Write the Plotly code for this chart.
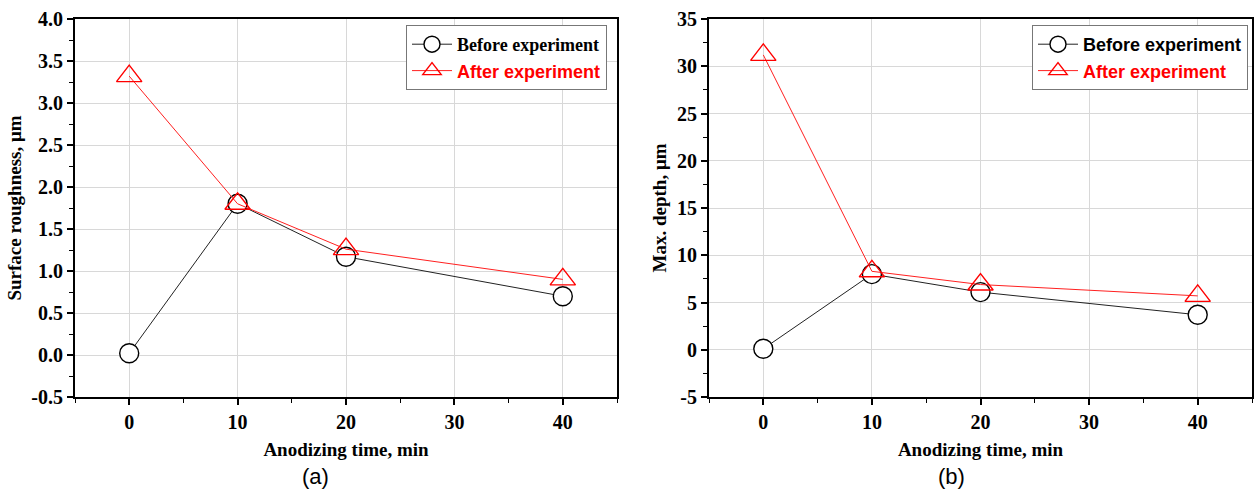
import plotly.graph_objects as go

time_min = [0, 10, 20, 40]
roughness_before = [0.02, 1.80, 1.17, 0.70]
roughness_after = [3.32, 1.80, 1.26, 0.90]
depth_before = [0.1, 8.0, 6.1, 3.7]
depth_after = [31.2, 8.3, 6.9, 5.7]

rough_ticks = [-0.5, 0.0, 0.5, 1.0, 1.5, 2.0, 2.5, 3.0, 3.5, 4.0]
rough_ticktext = ["-0.5", "0.0", "0.5", "1.0", "1.5", "2.0", "2.5", "3.0", "3.5", "4.0"]
depth_ticks = [-5, 0, 5, 10, 15, 20, 25, 30, 35]
depth_ticktext = ["-5", "0", "5", "10", "15", "20", "25", "30", "35"]

SERIF = "Liberation Serif"
SANS = "Liberation Sans"

W, H = 1257, 492
def px_x(p): return p / W
def px_y(p): return 1 - p / H

fig = go.Figure()

def add_pair(xa, ya, before, after, legend, serif_before):
    bfont = SERIF if serif_before else SANS
    fig.add_trace(go.Scatter(
        x=time_min, y=before, mode="lines+markers", xaxis=xa, yaxis=ya,
        name=f'<span style="font-family:{bfont}"><b>Before experiment</b></span>',
        line=dict(color="#222222", width=1),
        marker=dict(symbol="circle", size=19, color="white",
                    line=dict(color="black", width=1.4)),
        legend=legend))
    fig.add_trace(go.Scatter(
        x=time_min, y=after, mode="lines+markers", xaxis=xa, yaxis=ya,
        name=f'<span style="font-family:{SANS};color:red"><b>After experiment</b></span>',
        line=dict(color="#ff2020", width=1),
        marker=dict(symbol="triangle-up-open", size=22, color="red",
                    line=dict(color="red", width=1.4)),
        legend=legend))

add_pair("x", "y", roughness_before, roughness_after, "legend", True)
add_pair("x2", "y2", depth_before, depth_after, "legend2", False)

xtickfont = dict(family=SERIF, size=20, color="black", weight="bold")
ytickfont = dict(family=SERIF, size=20, color="black", weight="bold")
titlefont = dict(family=SERIF, size=19, color="black", weight="bold")

common_x = dict(range=[-5, 45], dtick=10, tick0=0, ticks="outside", ticklen=6,
                tickwidth=1.5, tickcolor="black", showline=True, linewidth=2,
                linecolor="black", mirror=True, showgrid=True, gridcolor="#d8d8d8",
                gridwidth=1, zeroline=False, tickfont=xtickfont, automargin=False,
                minor=dict(ticks="outside", ticklen=4, dtick=5, tickcolor="black",
                           tickwidth=1.2, showgrid=False),
                title=dict(text="Anodizing time, min", font=titlefont, standoff=11))

common_y = dict(ticks="outside", ticklen=6, tickwidth=1.5, tickcolor="black",
                showline=True, linewidth=2, linecolor="black", mirror=True,
                showgrid=True, gridcolor="#d8d8d8", zeroline=False,
                tickfont=ytickfont, automargin=False, tickmode="array")

fig.update_layout(
    width=W, height=H, margin=dict(l=0, r=0, t=0, b=0),
    paper_bgcolor="white", plot_bgcolor="white",
    showlegend=True,
    xaxis=dict(domain=[px_x(75), px_x(617)], anchor="y", **common_x),
    xaxis2=dict(domain=[px_x(709), px_x(1252)], anchor="y2", **common_x),
    yaxis=dict(domain=[1 - 397 / H, 1 - 19 / H], anchor="x", range=[-0.5, 4.0],
               tickvals=rough_ticks, ticktext=rough_ticktext, **common_y,
               minor=dict(ticks="outside", ticklen=4, dtick=0.25, tick0=0,
                          tickcolor="black", tickwidth=1.2, showgrid=False),
               title=dict(text="Surface roughness, μm", font=titlefont, standoff=5)),
    yaxis2=dict(domain=[1 - 397 / H, 1 - 19 / H], anchor="x2", range=[-5, 35],
                tickvals=depth_ticks, ticktext=depth_ticktext, **common_y,
                minor=dict(ticks="outside", ticklen=4, dtick=2.5, tick0=0,
                           tickcolor="black", tickwidth=1.2, showgrid=False),
                title=dict(text="Max. depth, μm", font=titlefont, standoff=5)),
    legend=dict(x=px_x(607), y=px_y(25), xanchor="right", yanchor="top",
                bgcolor="white", bordercolor="#777777", borderwidth=1,
                font=dict(family=SERIF, size=18, color="black"),
                tracegroupgap=0, itemwidth=40),
    legend2=dict(x=px_x(1248), y=px_y(25), xanchor="right", yanchor="top",
                 bgcolor="white", bordercolor="#777777", borderwidth=1,
                 font=dict(family=SANS, size=18, color="black"),
                 tracegroupgap=0, itemwidth=40),
    annotations=[
        dict(text="(a)", x=px_x(315), y=px_y(476), xref="paper", yref="paper",
             xanchor="center", yanchor="middle", showarrow=False,
             font=dict(family=SANS, size=22, color="black")),
        dict(text="(b)", x=px_x(951), y=px_y(476), xref="paper", yref="paper",
             xanchor="center", yanchor="middle", showarrow=False,
             font=dict(family=SANS, size=22, color="black")),
    ],
)

fig.write_html("out.html", config={"displayModeBar": False},
               post_script="document.body.style.margin='0';document.body.style.overflow='hidden';")
